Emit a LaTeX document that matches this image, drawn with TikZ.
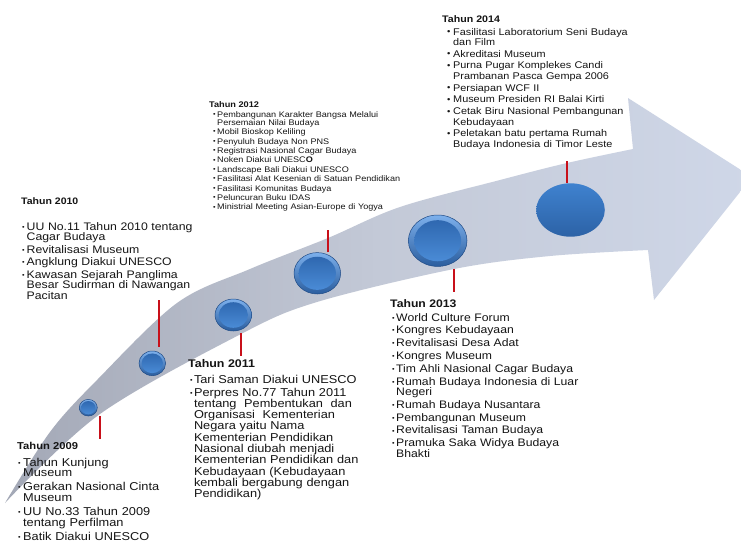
\documentclass[tikz,border=0pt]{standalone}
\usepackage{fontspec}
\setmainfont{Liberation Sans}[FakeStretch=1.12]
\usetikzlibrary{shapes.geometric}
\definecolor{txt}{HTML}{151515}
\definecolor{bandL}{HTML}{A3A8B6}
\definecolor{bandM}{HTML}{C3C9D7}
\definecolor{bandR}{HTML}{CFD7E8}
\definecolor{cEdge}{HTML}{1F4A85}
\definecolor{cRimT}{HTML}{7DB0EC}
\definecolor{cRimB}{HTML}{2A5D9E}
\definecolor{cInT}{HTML}{2F68B0}
\definecolor{cInB}{HTML}{4A8BD6}
\definecolor{cFlatT}{HTML}{3F82CF}
\definecolor{cFlatB}{HTML}{2C62A6}
\definecolor{redl}{HTML}{C8101A}
\newlength\hng
\newcommand\bltsym{}
\newcommand\lstfmt[5]{\fontsize{#1}{#2}\selectfont\setlength\parskip{#3}\setlength\hng{#4}\renewcommand\bltsym{#5}\lineskiplimit=-100pt\parindent=0pt}
\newcommand\itmA[1]{\hangindent=\hng\hangafter=1\noindent\makebox[\hng][l]{\bltsym}#1}
\newcommand\itm[1]{\par\hangindent=\hng\hangafter=1\noindent\makebox[\hng][l]{\bltsym}#1}
\newcommand\nl{\newline}
\newcommand\smb{\raisebox{0.9pt}{\fontsize{6.5}{6.5}\selectfont •}}
\newcommand\bgb{\raisebox{0.3pt}{\fontsize{8.5}{8.5}\selectfont •}}
\newcommand\bubble[5]{%
  \node[bub, minimum width=#4*2pt, minimum height=#5*2pt] (#1) at (#2,#3) {};
  \shade[top color=cInT, bottom color=cInB] (#1.center) ellipse [x radius=#4*0.8pt, y radius=#5*0.8pt];}
\tikzset{
  bub/.style={ellipse, inner sep=0pt, draw=cEdge, line width=0.5pt, top color=cRimT, bottom color=cRimB},
  bubflat/.style={ellipse, inner sep=0pt, draw=none, top color=cFlatT, bottom color=cFlatB},
  redln/.style={draw=redl, line width=2pt},
  ttl/.style={anchor=base west, inner sep=0pt, text=txt, font=\bfseries\fontsize{#1}{#1}\selectfont},
  lst/.style={anchor=base west, inner sep=0pt, text=txt, text width=260pt},
}
\begin{document}
\begin{tikzpicture}[x=1pt,y=-1pt]
\useasboundingbox (0,0) rectangle (741,542);
\fill[white] (0,0) rectangle (741,542);
\begin{scope}
\clip (0,0) rectangle (741,542);
\shade[left color=bandL, right color=bandR, middle color=bandM]
  plot[smooth, tension=0.55] coordinates {(5,503) (50,432) (97,380) (177,303) (250,269) (328,238) (400,207) (500,180) (567,163) (633,149)}
  -- (628,98) -- (752,177) -- (654,300) -- (648,250)
  -- plot[smooth, tension=0.55] coordinates {(648,250) (550,256) (454,269) (317,302) (241,334) (100,414) (5,503)} -- cycle;
\end{scope}

% circles
\bubble{c2009}{88.3}{407.7}{9}{8.3}
\bubble{c2010}{152.3}{363.3}{13.3}{12.3}
\bubble{c2011}{233.3}{315}{18.3}{16}
\bubble{c2012}{317.3}{273.3}{23.3}{20.7}
\bubble{c2013}{437.7}{240.7}{29.3}{25.7}
\node[bubflat, minimum width=68.6pt, minimum height=53.4pt] (c2014) at (570.5,210) {};

% red markers
\coordinate (r2009) at (100,439.3);
\coordinate (r2010) at (159,300);
\coordinate (r2011) at (241,356);
\coordinate (r2012) at (328,230);
\coordinate (r2013) at (454,291.7);
\coordinate (r2014) at (567,160.5);
\draw[redln] ([xshift=11.7pt]c2009.south) -- (r2009);
\draw[redln] ([xshift=6.7pt,yshift=4pt]c2010.north) -- (r2010);
\draw[redln] ([xshift=7.7pt,yshift=-2pt]c2011.south) -- (r2011);
\draw[redln] ([xshift=10.7pt]c2012.north) -- (r2012);
\draw[redln] ([xshift=16.3pt,yshift=-2.5pt]c2013.south) -- (r2013);
\draw[redln] ([xshift=-3.5pt]c2014.north) -- (r2014);

% 2009
\node[ttl=10] (t2009) at (17,449) {Tahun 2009};
\node[lst, font={\lstfmt{11.4}{10.5}{3.8pt}{5pt}{\smb}}] (l2009) at (18,466) {%
\itmA{Tahun Kunjung\nl Museum}
\itm{Gerakan Nasional Cinta\nl Museum}
\itm{UU No.33 Tahun 2009\nl tentang Perfilman}
\itm{Batik Diakui UNESCO}\par};

% 2010
\node[ttl=9.4] (t2010) at (21,204.3) {Tahun 2010};
\node[lst, font={\lstfmt{10.95}{10.5}{2pt}{4.5pt}{\smb}}] (l2010) at (22,230) {%
\itmA{UU No.11 Tahun 2010 tentang\nl Cagar Budaya}
\itm{Revitalisasi Museum}
\itm{Angklung Diakui UNESCO}
\itm{Kawasan Sejarah Panglima\nl Besar Sudirman di Nawangan\nl Pacitan}\par};

% 2011
\node[ttl=11.1] (t2011) at (188,367) {Tahun 2011};
\node[lst, font={\lstfmt{11.4}{11.3}{1.7pt}{3.8pt}{\smb}}] (l2011) at (190,383) {%
\itmA{Tari Saman Diakui UNESCO}
\itm{Perpres No.77 Tahun 2011\nl tentang\ \ Pembentukan\ \ dan\nl Organisasi\ \ Kementerian\nl Negara yaitu Nama\nl Kementerian Pendidikan\nl Nasional diubah menjadi\nl Kementerian Pendidikan dan\nl Kebudayaan (Kebudayaan\nl kembali bergabung dengan\nl Pendidikan)}\par};

% 2012
\node[ttl=8.2] (t2012) at (209,107) {Tahun 2012};
\node[lst, font={\lstfmt{8.1}{8.3}{1.1pt}{4pt}{\smb}}] (l2012) at (213,117) {%
\itmA{Pembangunan Karakter Bangsa Melalui\nl Persemaian Nilai Budaya}
\itm{Mobil Bioskop Keliling}
\itm{Penyuluh Budaya Non PNS}
\itm{Registrasi Nasional Cagar Budaya}
\itm{Noken Diakui UNESC\textbf{O}}
\itm{Landscape Bali Diakui UNESCO}
\itm{Fasilitasi Alat Kesenian di Satuan Pendidikan}
\itm{Fasilitasi Komunitas Budaya}
\itm{Peluncuran Buku IDAS}
\itm{Ministrial Meeting Asian-Europe di Yogya}\par};

% 2013
\node[ttl=10.9] (t2013) at (390,307) {Tahun 2013};
\node[lst, font={\lstfmt{10.9}{10.5}{2.3pt}{4pt}{\smb}}] (l2013) at (392,321) {%
\itmA{World Culture Forum}
\itm{Kongres Kebudayaan}
\itm{Revitalisasi Desa Adat}
\itm{Kongres Museum}
\itm{Tim Ahli Nasional Cagar Budaya}
\itm{Rumah Budaya Indonesia di Luar\nl Negeri}
\itm{Rumah Budaya Nusantara}
\itm{Pembangunan Museum}
\itm{Revitalisasi Taman Budaya}
\itm{Pramuka Saka Widya Budaya\nl Bhakti}\par};

% 2014
\node[ttl=9.5] (t2014) at (442,22) {Tahun 2014};
\node[lst, font={\lstfmt{9.7}{10.5}{1.2pt}{6pt}{\bgb}}] (l2014) at (447,35) {%
\itmA{Fasilitasi Laboratorium Seni Budaya\nl dan Film}
\itm{Akreditasi Museum}
\itm{Purna Pugar Komplekes Candi\nl Prambanan Pasca Gempa 2006}
\itm{Persiapan WCF II}
\itm{Museum Presiden RI Balai Kirti}
\itm{Cetak Biru Nasional Pembangunan\nl Kebudayaan}
\itm{Peletakan batu pertama Rumah\nl Budaya Indonesia di Timor Leste}\par};
\end{tikzpicture}
\end{document}
